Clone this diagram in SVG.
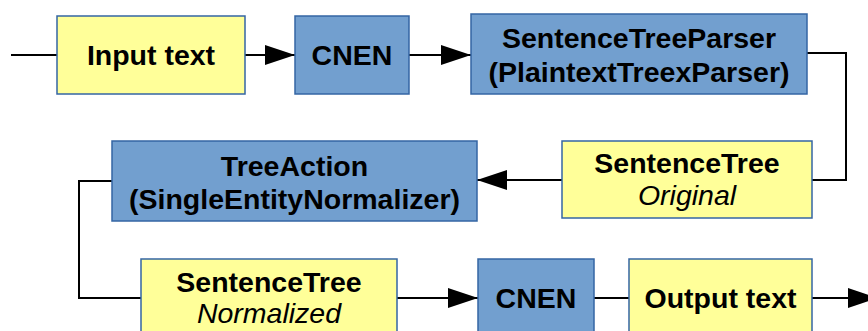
<svg xmlns="http://www.w3.org/2000/svg" width="868" height="331" viewBox="0 0 868 331">
  <style>
    .y { fill: #ffff99; stroke: #3465a4; stroke-width: 1.5; }
    .b { fill: #729fcf; stroke: #3465a4; stroke-width: 1.5; }
    .t { font-family: "Liberation Sans", Arial, sans-serif; font-size: 28.5px; font-weight: bold; fill: #000; text-anchor: middle; }
    .i { font-family: "Liberation Sans", Arial, sans-serif; font-size: 28.5px; font-style: italic; fill: #000; text-anchor: middle; }
    .c { fill: none; stroke: #000; stroke-width: 2; }
  </style>
  <defs>
    <marker id="ah" markerWidth="30" markerHeight="20" refX="30" refY="10" orient="auto" markerUnits="userSpaceOnUse">
      <path d="M0,0 L30,10 L0,20 Z" fill="#000"/>
    </marker>
  </defs>
  <rect width="868" height="331" fill="#fff"/>

  <g id="connectors">
    <path class="c" d="M11,55 H57"/>
    <path class="c" d="M245,55 H295" marker-end="url(#ah)"/>
    <path class="c" d="M409,55 H471" marker-end="url(#ah)"/>
    <path class="c" d="M807,53 H846 V180 H812"/>
    <path class="c" d="M562,180 H477" marker-end="url(#ah)"/>
    <path class="c" d="M112,181 H79 V298 H141"/>
    <path class="c" d="M397,298 H478" marker-end="url(#ah)"/>
    <path class="c" d="M594,298 H629"/>
    <path class="c" d="M812,298 H878" marker-end="url(#ah)"/>
  </g>

  <g id="input-text">
    <rect class="y" x="57" y="16" width="188" height="78"/>
    <text class="t" x="151" y="65">Input text</text>
  </g>
  <g id="cnen-1">
    <rect class="b" x="295" y="16" width="114" height="78"/>
    <text class="t" x="352" y="65">CNEN</text>
  </g>
  <g id="sentence-tree-parser">
    <rect class="b" x="471" y="14" width="336" height="80"/>
    <text class="t" x="639" y="48">SentenceTreeParser</text>
    <text class="t" x="639" y="82">(PlaintextTreexParser)</text>
  </g>
  <g id="sentence-tree-original">
    <rect class="y" x="562" y="141" width="250" height="77"/>
    <text class="t" x="687" y="173">SentenceTree</text>
    <text class="i" x="687" y="205">Original</text>
  </g>
  <g id="tree-action">
    <rect class="b" x="112" y="141" width="365" height="80"/>
    <text class="t" x="294.5" y="175.5">TreeAction</text>
    <text class="t" x="294.5" y="209">(SingleEntityNormalizer)</text>
  </g>
  <g id="sentence-tree-normalized">
    <rect class="y" x="141" y="259" width="256" height="80"/>
    <text class="t" x="269" y="291.5">SentenceTree</text>
    <text class="i" x="269" y="323">Normalized</text>
  </g>
  <g id="cnen-2">
    <rect class="b" x="478" y="259" width="116" height="80"/>
    <text class="t" x="536" y="308">CNEN</text>
  </g>
  <g id="output-text">
    <rect class="y" x="629" y="259" width="183" height="80"/>
    <text class="t" x="720.5" y="308">Output text</text>
  </g>
</svg>
